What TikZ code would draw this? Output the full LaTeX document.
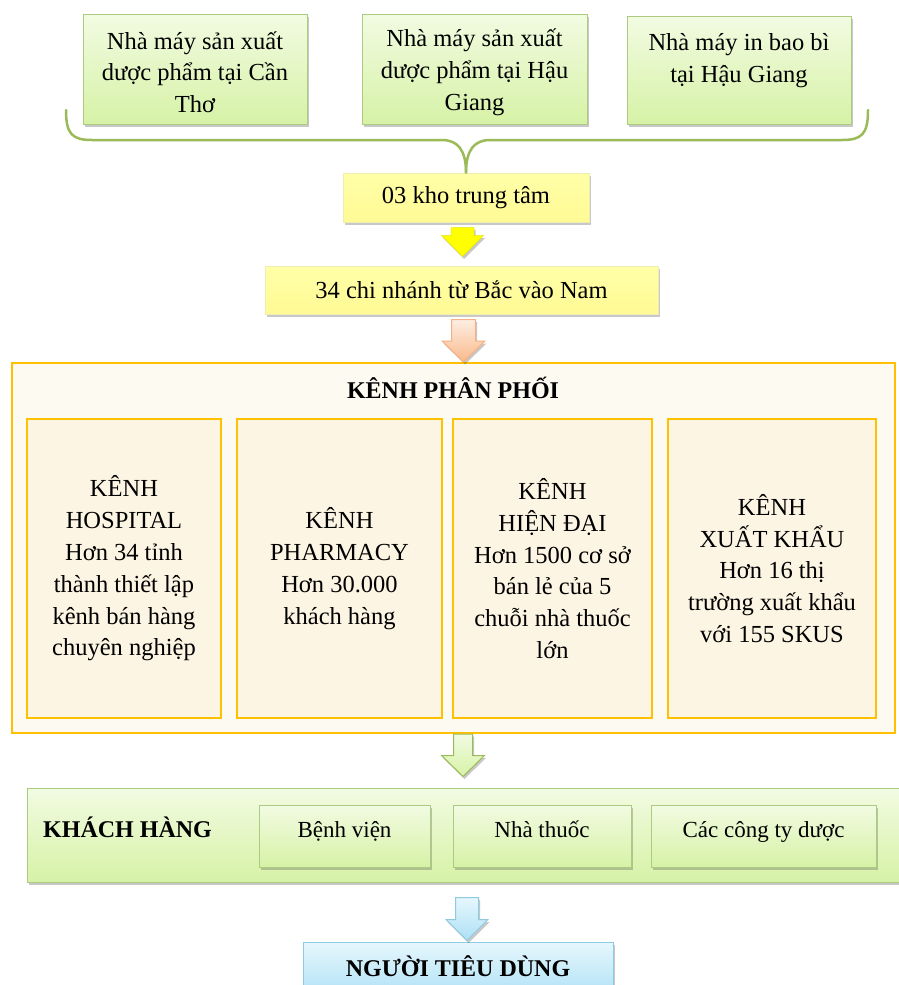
\documentclass[tikz,border=0pt]{standalone}
\usepackage{fontspec}
\setmainfont{Liberation Serif}
\usetikzlibrary{shadows,calc}
\definecolor{grnT}{HTML}{F2FBE2}
\definecolor{grnBot}{HTML}{D6F2A6}
\definecolor{grnD}{HTML}{ABCB80}
\definecolor{brc}{HTML}{9BBB59}
\definecolor{ylwT}{HTML}{FFFFA8}
\definecolor{ylwB}{HTML}{FFFA94}
\definecolor{ylwD}{HTML}{EFEDB0}
\definecolor{gold}{HTML}{FFC000}
\definecolor{bigF}{HTML}{FDFAF1}
\definecolor{subF}{HTML}{FDF5E3}
\definecolor{bluT}{HTML}{E6F7FD}
\definecolor{bluB}{HTML}{ACE0F5}
\definecolor{bluD}{HTML}{8FCBE0}
\definecolor{orT}{HTML}{FDEEE2}
\definecolor{orB}{HTML}{F9B98A}
\definecolor{orD}{HTML}{F4B183}
\definecolor{arY}{HTML}{FFFF00}
\newcommand\blockarrow[5]{%
  \path[#1] let \p1=(#2), \p2=(#3) in
    (\x1-#4pt,\y1) -- (\x1+#4pt,\y1) -- (\x1+#4pt,\y2+21pt) -- (\x1+#5pt,\y2+21pt)
    -- (\x1,\y2) -- (\x1-#5pt,\y2+21pt) -- (\x1-#4pt,\y2+21pt) -- cycle;}
\newcommand\uplift{\rule[-13pt]{0pt}{13pt}}
\newcommand\downshift{\rule{0pt}{24pt}}
\tikzset{
  base/.style={align=center, inner sep=0pt, font=\fontsize{24.5}{31.8}\selectfont},
  shadowed/.style={drop shadow={shadow xshift=1.5pt, shadow yshift=-2.5pt, opacity=0.3, fill=black!70}},
  greenbox/.style={base, shadowed, draw=grnD, line width=1pt, top color=grnT, bottom color=grnBot},
  yellowbox/.style={base, shadowed, draw=ylwD, line width=1pt, top color=ylwT, bottom color=ylwB},
  bigbox/.style={draw=gold, line width=2pt, fill=bigF, inner sep=0pt},
  kenhbox/.style={base, draw=gold, line width=2.5pt, fill=subF},
  bluebox/.style={base, shadowed, draw=bluD, line width=1pt, top color=bluT, bottom color=bluB},
  boldlabel/.style={inner sep=0pt, font=\fontsize{24}{28}\selectfont\bfseries},
  custbox/.style={greenbox, minimum height=62pt, font=\fontsize{23}{28}\selectfont},
  bracelink/.style={draw=brc, line width=2.5pt, line cap=round},
  arrowY/.style={fill=arY, draw=arY!90!black, line width=0.5pt, shadowed},
  arrowO/.style={top color=orT, bottom color=orB, draw=orD, line width=1pt, shadowed},
  arrowG/.style={top color=grnT, bottom color=grnBot, draw=brc, line width=1pt, shadowed},
  arrowB/.style={top color=bluT, bottom color=bluB, draw=bluD, line width=1pt, shadowed},
}
\begin{document}
\begin{tikzpicture}[x=1pt,y=-1pt]
\useasboundingbox (0,0) rectangle (899,985);
\fill[white] (0,0) rectangle (899,985);

% top factories
\node[greenbox, minimum width=224pt, minimum height=110pt] (f1) at (195,69)
  {\downshift Nhà máy sản xuất\\dược phẩm tại Cần\\Thơ};
\node[greenbox, minimum width=225pt, minimum height=110pt] (f2) at (474.5,69)
  {\downshift Nhà máy sản xuất\\dược phẩm tại Hậu\\Giang};
\node[greenbox, minimum width=224pt, minimum height=108pt] (f3) at (739,70)
  {\downshift Nhà máy in bao bì\\tại Hậu Giang\\\mbox{}};

% warehouses
\node[yellowbox, minimum width=246pt, minimum height=49pt] (kho) at (466,197.5) {03 kho trung tâm};
\node[yellowbox, minimum width=393pt, minimum height=48pt] (chi) at (461.5,290) {34 chi nhánh từ Bắc vào Nam};

% brace
\coordinate (bl) at (66,110);
\coordinate (br) at (868,110);
\draw[bracelink] (bl) .. controls (66,134) and (72,140) .. (92,140) -- (442,140)
  .. controls (458,140) and ($(kho.north)+(0,-22)$) .. (kho.north);
\draw[bracelink] (kho.north) .. controls ($(kho.north)+(0,-22)$) and (474,140) .. (490,140)
  -- (842,140) .. controls (862,140) and (868,134) .. (br);

% distribution channels
\node[bigbox, minimum width=883pt, minimum height=370pt] (kenh) at (453.5,548) {};
\node[boldlabel] (kenhT) at (453,388) {KÊNH PHÂN PHỐI};
\node[kenhbox, minimum width=194pt, minimum height=299pt] (k1) at (124,568.5)
  {KÊNH\\HOSPITAL\\Hơn 34 tỉnh\\thành thiết lập\\kênh bán hàng\\chuyên nghiệp};
\node[kenhbox, minimum width=205pt, minimum height=299pt] (k2) at (339.5,568.5)
  {KÊNH\\PHARMACY\\Hơn 30.000\\khách hàng};
\node[kenhbox, minimum width=199pt, minimum height=299pt] (k3) at (552.5,568.5)
  {KÊNH\\HIỆN ĐẠI\\Hơn 1500 cơ sở\\bán lẻ của 5\\chuỗi nhà thuốc\\lớn};
\node[kenhbox, minimum width=208pt, minimum height=299pt] (k4) at (772,568.5)
  {KÊNH\\XUẤT KHẨU\\Hơn 16 thị\\trường xuất khẩu\\với 155 SKUS};

% customers
\node[greenbox, minimum width=875pt, minimum height=94pt] (kh) at (464.5,835) {};
\node[boldlabel, anchor=west] (khT) at (43,827) {KHÁCH HÀNG};
\node[custbox, minimum width=171pt] (c1) at (344.5,836) {Bệnh viện\uplift};
\node[custbox, minimum width=178pt] (c2) at (542,836) {Nhà thuốc\uplift};
\node[custbox, minimum width=225pt] (c3) at (763.5,836) {Các công ty dược\uplift};

% consumers
\node[bluebox, minimum width=310pt, minimum height=58pt] (ntd) at (458,971) {};
\node[boldlabel] (ntdT) at (458,966) {NGƯỜI TIÊU DÙNG};

% block arrows
\blockarrow{arrowY}{[xshift=-3.5pt,yshift=-5pt]kho.south}{[yshift=9pt]chi.north}{11.5}{21}
\blockarrow{arrowO}{[xshift=2pt,yshift=-5pt]chi.south}{kenh.north}{12}{21.5}
\blockarrow{arrowG}{[xshift=9.5pt]kenh.south}{[yshift=11pt]kh.north}{9.5}{21.5}
\blockarrow{arrowB}{[xshift=2.5pt,yshift=-15pt]kh.south}{[yshift=1pt]ntd.north}{11.5}{21}
\end{tikzpicture}
\end{document}
